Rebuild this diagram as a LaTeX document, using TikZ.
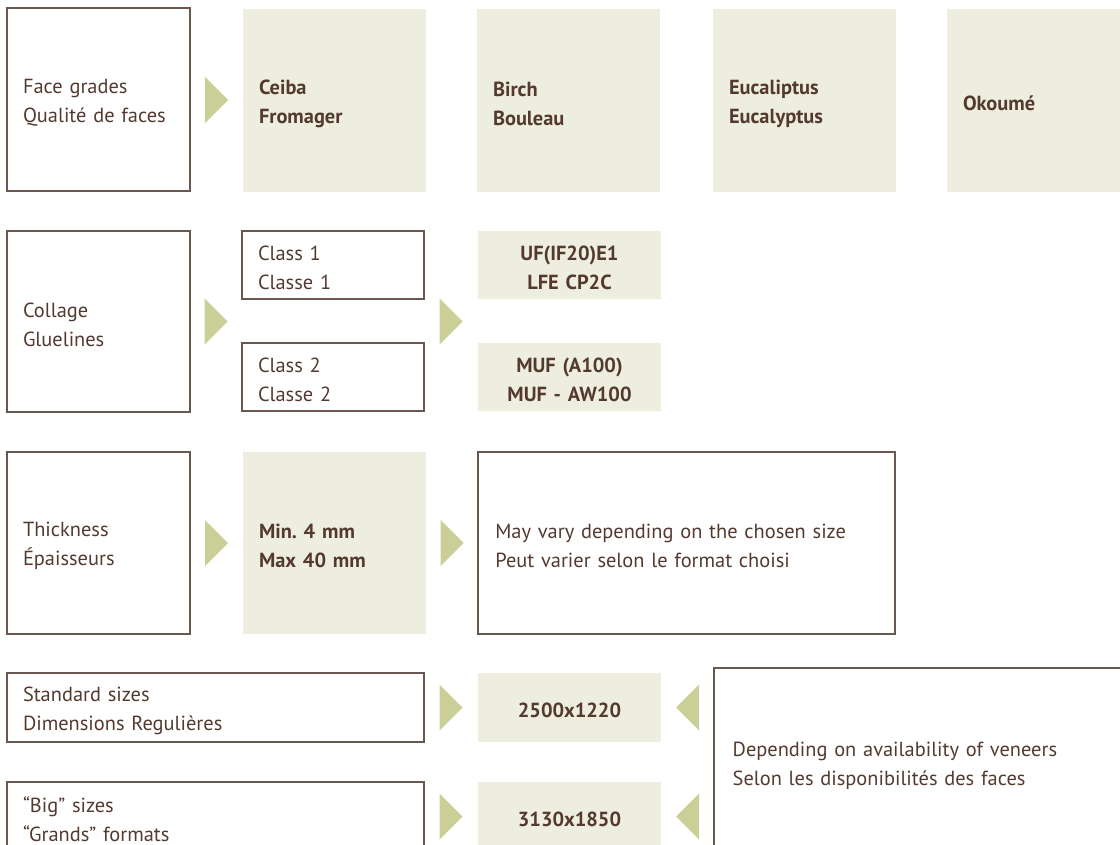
\documentclass[tikz,border=0pt]{standalone}
\usepackage{fontspec}
\setmainfont{PT Sans}
\usetikzlibrary{calc,positioning}
\definecolor{brd}{RGB}{104,88,80}
\definecolor{ink}{RGB}{84,58,46}
\definecolor{pale}{RGB}{238,238,224}
\definecolor{leaf}{RGB}{201,207,150}
\newcommand{\bodyfont}{\fontsize{15.3pt}{21.75pt}\selectfont\frenchspacing}
\tikzset{
  cell/.style 2 args={anchor=north west, outer sep=0pt, inner xsep=0pt,
    minimum width=#1*0.75pt, minimum height=#2*0.75pt,
    execute at begin node={\rule{0pt}{15.8pt}},
    text width=#1*0.75pt-24pt, align=left, text=ink, font=\bodyfont},
  frame/.style={draw=brd, line width=1.1pt},
  pad/.style={text width=#1},
  shade/.style={fill=pale, font=\bodyfont\bfseries},
  mid/.style={align=center},
  tri/.style={fill=leaf}
}
\newcommand{\rtri}[1]{\fill[tri] (#1) ++(-11.5,-23) -- ++(23,23) -- ++(-23,23) -- cycle;}
\newcommand{\ltri}[1]{\fill[tri] (#1) ++(11.5,-23) -- ++(-23,23) -- ++(23,23) -- cycle;}

\begin{document}
\begin{tikzpicture}[x=0.75pt,y=-0.75pt]
    \useasboundingbox (0,0) rectangle (1120,845);
    \clip (0,0) rectangle (1120,845);
    % face grades
    \node[cell={183}{183},frame] (fg) at (7,8) {Face grades\\Qualité de faces};
    \node[cell={183}{183},shade] (ceiba) at (243,9) {Ceiba\\Fromager};
    \node[cell={183}{183},shade] (birch) at (477,9) {Birch\\Bouleau};
    \node[cell={183}{183},shade] (euca) at (713,9) {Eucaliptus\\Eucalyptus};
    \node[cell={183}{183},shade] (okou) at (947,9) {Okoumé};
    % gluelines
    \node[cell={183}{181},frame] (coll) at (7,231) {Collage\\Gluelines};
    \node[cell={182}{68},frame] (cls1) at (242,231) {Class 1\\Classe 1};
    \node[cell={182}{68},frame] (cls2) at (242,343) {Class 2\\Classe 2};
    \node[cell={183}{68},shade,mid] (uf) at (478,231) {UF(IF20)E1\\LFE CP2C};
    \node[cell={183}{68},shade,mid] (muf) at (478,343) {MUF (A100)\\MUF - AW100};
    % thickness
    \node[cell={183}{182},frame] (thick) at (7,452) {Thickness\\Épaisseurs};
    \node[cell={183}{182},shade] (minmax) at (243,452) {Min. 4 mm\\Max 40 mm};
    \node[cell={417}{182},frame,pad={417*0.75pt-26pt}] (vary) at (478,452)
        {May vary depending on the chosen size\\Peut varier selon le format choisi};
    % sizes
    \node[cell={417}{69},frame] (std) at (7,673) {Standard sizes\\Dimensions Regulières};
    \node[cell={417}{69},frame] (big) at (7,782) {“Big” sizes\\“Grands” formats};
    \node[cell={183}{69},shade,mid] (s1) at (478,673) {2500x1220};
    \node[cell={183}{69},shade,mid] (s2) at (478,782) {3130x1850};
    \node[cell={416}{188},frame,pad={416*0.75pt-28pt}] (dep) at (714,668)
        {Depending on availability of veneers\\Selon les disponibilités des faces};

    \rtri{$(fg.east)!0.5!(ceiba.west)$}
    \rtri{$(coll.east)!0.5!(cls1.west |- coll.east)$}
    \rtri{$(cls1.east |- coll.east)!0.5!(uf.west |- coll.east)$}
    \rtri{$(thick.east)!0.5!(minmax.west)$}
    \rtri{$(minmax.east)!0.5!(vary.west)$}
    \rtri{$(std.east)!0.5!(s1.west)$}
    \rtri{$(big.east)!0.5!(s2.west)$}
    \ltri{$(s1.east)!0.5!(dep.west |- s1.east)$}
    \ltri{$(s2.east)!0.5!(dep.west |- s2.east)$}
\end{tikzpicture}
\end{document}
